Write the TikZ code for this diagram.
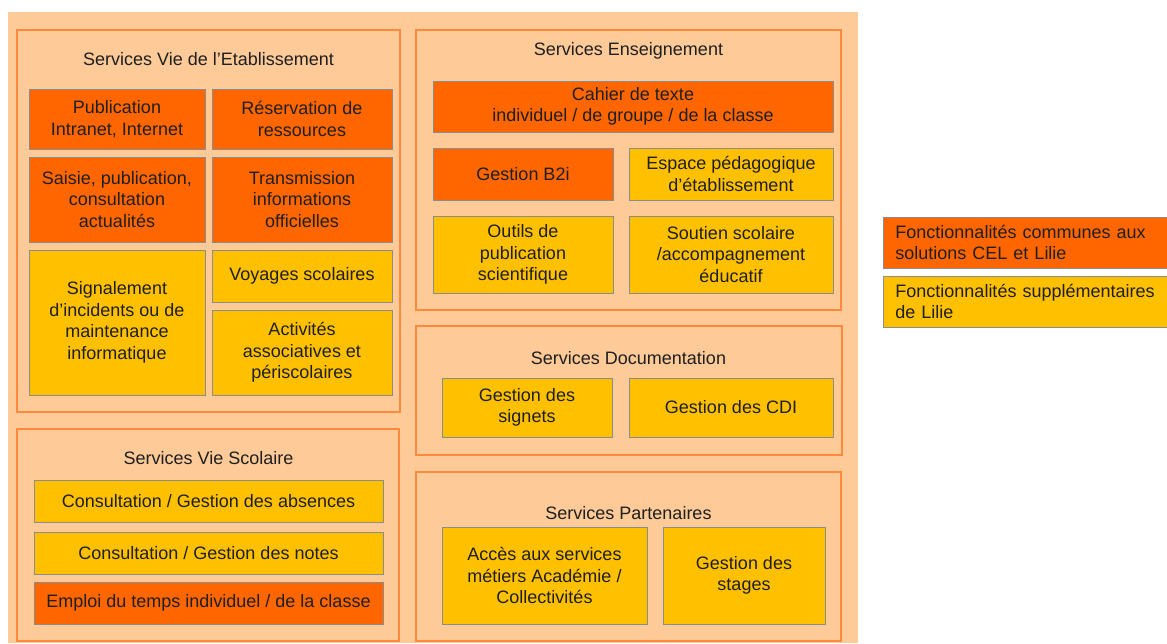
\documentclass[tikz,border=0pt]{standalone}
\usepackage{fontspec}
\setmainfont{Liberation Sans}
\usepackage{tikz}
\usetikzlibrary{positioning}

\definecolor{bgorange}{HTML}{FDCA98}
\definecolor{panelline}{HTML}{FF8A3D}
\definecolor{darkor}{HTML}{FF6600}
\definecolor{yellowor}{HTML}{FFC000}
\definecolor{boxline}{HTML}{8C8C8C}

\begin{document}
\begin{tikzpicture}[
    x = 1pt, y = -1pt,
    every node/.style = {font=\fontsize{18}{21.6}\selectfont, text=black!88},
    panel/.style = {draw=panelline, line width=1.2pt, fill=bgorange},
    svc/.style = {rectangle, draw=boxline, line width=0.9pt, align=center,
      inner sep=0pt},
    common/.style = {svc, fill=darkor},
    extra/.style = {svc, fill=yellowor},
  ]
  \useasboundingbox (0,0) rectangle (1167,643);
  \fill[bgorange] (8,12) rectangle (858,643);

  % panels
  \draw[panel] (17,30) rectangle (400,412);
  \draw[panel] (416,30) rectangle (841,310);
  \draw[panel] (416,326) rectangle (842,455);
  \draw[panel] (17,429) rectangle (399,641);
  \draw[panel] (416,472) rectangle (841,641);

  \node (tEtab) at (208.5,59) {Services Vie de l’Etablissement};
  \node (tEns)  at (628.5,51) {Services Enseignement};
  \node (tDoc)  at (628.5,358) {Services Documentation};
  \node (tScol) at (208.5,458) {Services Vie Scolaire};
  \node (tPart) at (628.5,513) {Services Partenaires};

  % Vie de l'Etablissement
  \node[common, minimum width=176pt, minimum height=60pt] (pub) at (117,119)
    {Publication\\Intranet, Internet};
  \node[common, minimum width=180pt, minimum height=60pt] (resa) at (302,119)
    {Réservation de\\ressources};
  \node[common, minimum width=176pt, minimum height=85pt] (saisie) at (117,199.5)
    {Saisie, publication,\\consultation\\actualités};
  \node[common, minimum width=180pt, minimum height=85pt] (transm) at (302,199.5)
    {Transmission\\informations\\officielles};
  \node[extra, minimum width=176pt, minimum height=145pt] (signal) at (117,322.5)
    {Signalement\\d’incidents ou de\\maintenance\\informatique};
  \node[extra, minimum width=180pt, minimum height=52pt] (voyage) at (302,276)
    {Voyages scolaires};
  \node[extra, minimum width=180pt, minimum height=85pt] (activ) at (302,352.5)
    {Activités\\associatives et\\périscolaires};

  % Enseignement
  \node[common, minimum width=400pt, minimum height=51pt] (cahier) at (633,106.5)
    {Cahier de texte\\individuel / de groupe / de la classe};
  \node[common, minimum width=180pt, minimum height=52pt] (btwoi) at (523,174)
    {Gestion B2i};
  \node[extra, minimum width=204pt, minimum height=52pt] (espace) at (731,174)
    {Espace pédagogique\\d’établissement};
  \node[extra, minimum width=180pt, minimum height=77pt] (outils) at (523,254.5)
    {Outils de\\publication\\scientifique};
  \node[extra, minimum width=204pt, minimum height=77pt] (soutien) at (731,254.5)
    {Soutien scolaire\\/accompagnement\\éducatif};

  % Documentation
  \node[extra, minimum width=170pt, minimum height=59pt] (signets) at (527,407.5)
    {Gestion des\\signets};
  \node[extra, minimum width=204pt, minimum height=59pt] (cdi) at (731,407.5)
    {Gestion des CDI};

  % Vie Scolaire
  \node[extra, minimum width=349pt, minimum height=42pt] (absences) at (208.5,501)
    {Consultation / Gestion des absences};
  \node[extra, minimum width=349pt, minimum height=42pt] (notes) at (208.5,553)
    {Consultation / Gestion des notes};
  \node[common, minimum width=349pt, minimum height=42pt] (emploi) at (208.5,603)
    {Emploi du temps individuel / de la classe};

  % Partenaires
  \node[extra, minimum width=205pt, minimum height=97pt] (acces) at (544.5,575.5)
    {Accès aux services\\métiers Académie /\\Collectivités};
  \node[extra, minimum width=162pt, minimum height=97pt] (stages) at (744,575.5)
    {Gestion des\\stages};

  % legende
  \node[common, align=left, text width=260pt, minimum height=51pt,
    inner xsep=12pt, anchor=west] (legCommon) at (883,242.5)
    {Fonctionnalités communes aux\\solutions CEL et Lilie};
  \node[extra, align=left, text width=260pt, minimum height=51pt,
    inner xsep=12pt, anchor=west] (legExtra) at (883,301.5)
    {Fonctionnalités supplémentaires\\de Lilie};
\end{tikzpicture}
\end{document}
